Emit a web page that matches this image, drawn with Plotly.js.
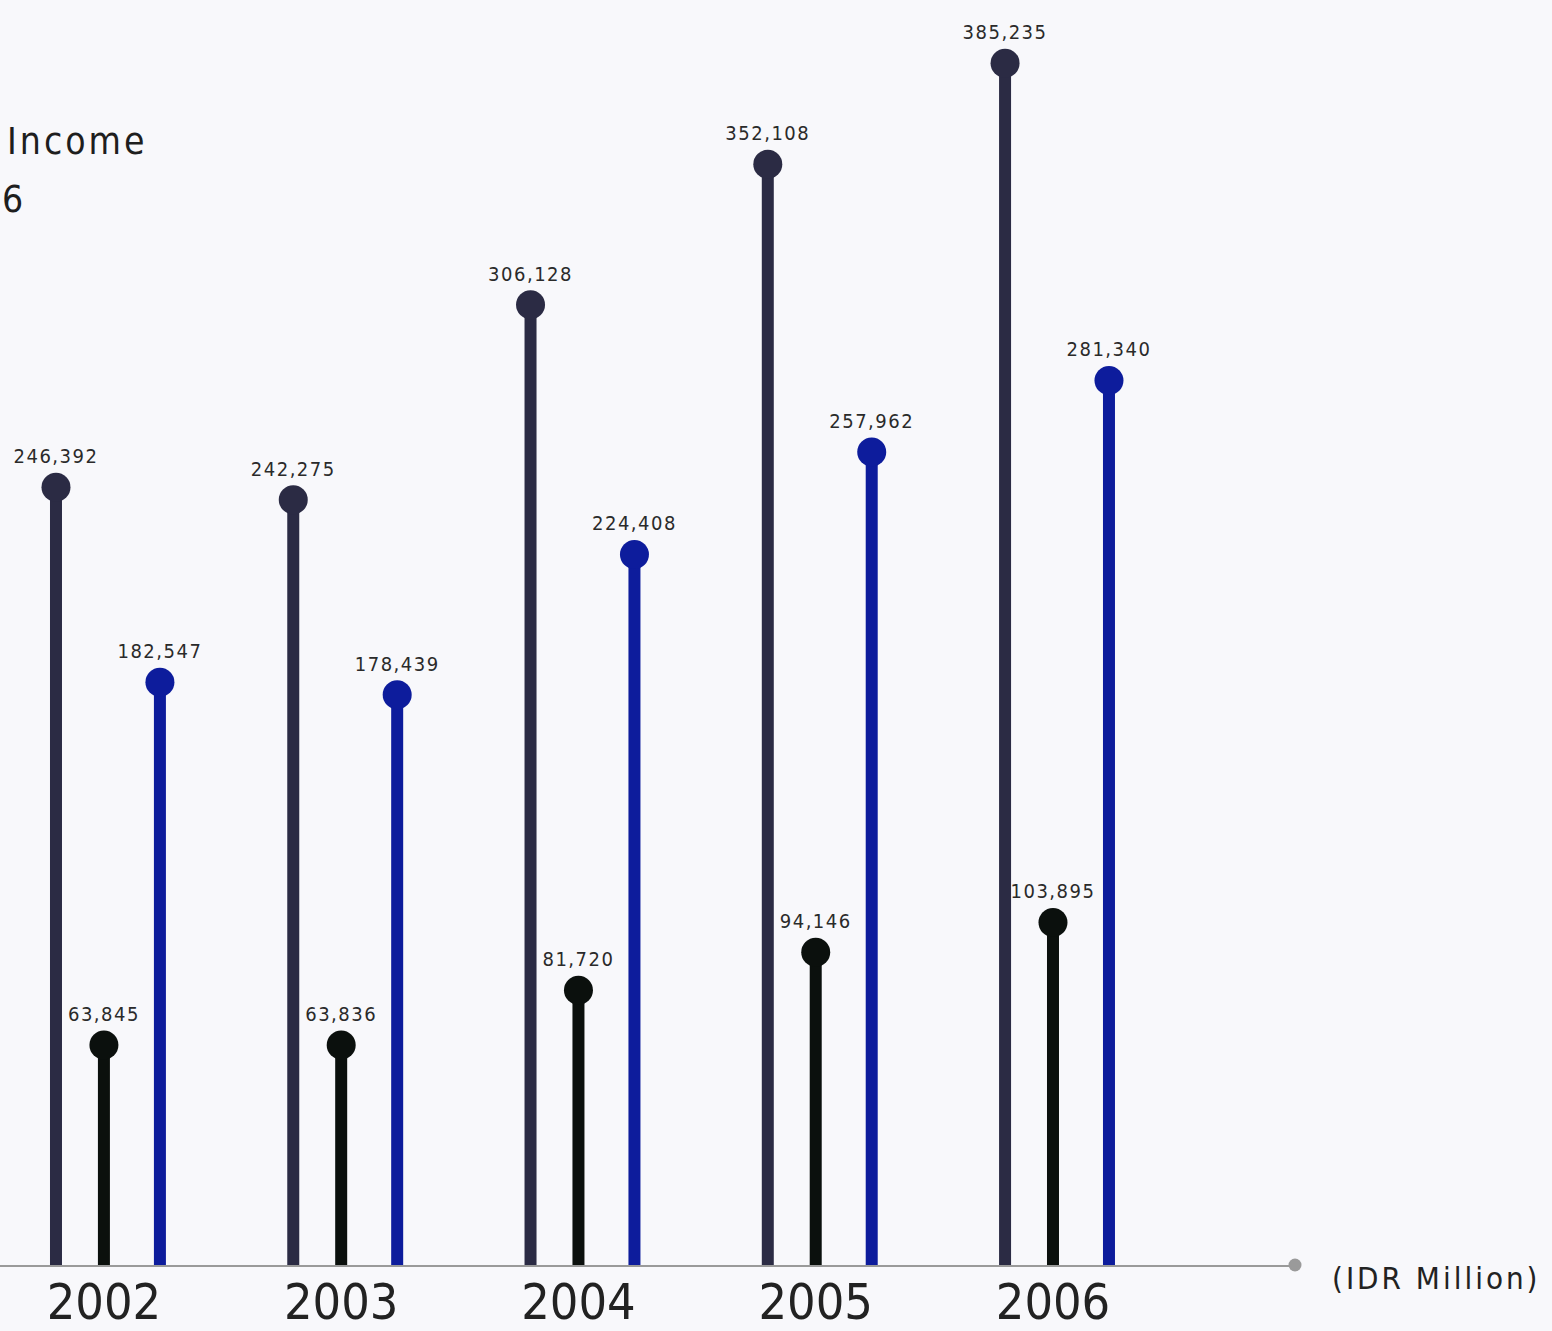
<!DOCTYPE html>
<html>
<head>
<meta charset="utf-8">
<script src="https://cdn.plot.ly/plotly-3.0.1.min.js"></script>
<style>
  html, body { margin: 0; padding: 0; background: #f8f8fb; }
  #chart { width: 1552px; height: 1331px; }
  .textpoint text { letter-spacing: 1.5px; }
  .annotation-text { letter-spacing: 3px; }
</style>
</head>
<body>
<div id="chart"></div>
<script>
// ---- data ----
const years = [2002, 2003, 2004, 2005, 2006];
const yearLabels = ['2002', '2003', '2004', '2005', '2006'];
const seriesA = [246392, 242275, 306128, 352108, 385235]; // dark slate
const seriesB = [63845, 63836, 81720, 94146, 103895];     // black
const seriesC = [182547, 178439, 224408, 257962, 281340]; // blue
const unitLabel = '(IDR Million)';
const titleLine1 = 'Income';
const titleLine2 = '6';

// ---- layout constants ----
const FONT = 'DejaVu Sans Condensed, DejaVu Sans, sans-serif';
const Y_RANGE = [-8200, 405900];
const X_RANGE = [2001.562, 2007.02];
const OFFSETS = [-0.202, 0, 0.236];
const COLORS = ['#2b2b44', '#0b100d', '#0d1c9c'];
const PLOT_W = 1295, PLOT_H = 1265;

function stemTrace(vals, off, color) {
  const x = [], y = [];
  years.forEach((yr, i) => {
    x.push(yr + off, yr + off, null);
    y.push(Y_RANGE[0], vals[i], null);
  });
  return {
    type: 'scatter', mode: 'lines', x, y,
    line: { color, width: 12 }, hoverinfo: 'skip', showlegend: false, cliponaxis: true
  };
}
function headTrace(vals, off, color) {
  return {
    type: 'scatter', mode: 'markers+text',
    x: years.map(v => v + off), y: vals,
    marker: { color, size: 29 },
    texttemplate: '%{y:,}', textposition: 'top center',
    textfont: { family: FONT, size: 20, color: '#2a2a2a' },
    showlegend: false, cliponaxis: false
  };
}

const series = [seriesA, seriesB, seriesC];
const data = [];
series.forEach((s, k) => data.push(stemTrace(s, OFFSETS[k], COLORS[k])));
series.forEach((s, k) => data.push(headTrace(s, OFFSETS[k], COLORS[k])));
// end dot of the axis
data.push({
  type: 'scatter', mode: 'markers', x: [X_RANGE[1]], y: [Y_RANGE[0]],
  marker: { color: '#9a9a9a', size: 13 }, showlegend: false, cliponaxis: false, hoverinfo: 'skip'
});

const layout = {
  width: 1552, height: 1331,
  margin: { l: 0, r: 1552 - PLOT_W, t: 0, b: 1331 - PLOT_H, pad: 0 },
  paper_bgcolor: '#f8f8fb', plot_bgcolor: '#f8f8fb',
  showlegend: false,
  xaxis: {
    range: X_RANGE, showgrid: false, zeroline: false,
    showline: true, linecolor: '#9a9a9a', linewidth: 2,
    tickmode: 'array', tickvals: years, ticktext: yearLabels, ticks: '',
    ticklabelstandoff: -8,
    tickfont: { family: FONT, size: 50, color: '#222' }
  },
  yaxis: {
    range: Y_RANGE, showgrid: false, zeroline: false, showline: false,
    showticklabels: false, ticks: ''
  },
  annotations: [
    { xref: 'paper', yref: 'paper', x: 5 / PLOT_W, y: (PLOT_H - 141) / PLOT_H,
      xanchor: 'left', yanchor: 'middle', showarrow: false, text: titleLine1,
      font: { family: FONT, size: 37, color: '#1e1e1e' } },
    { xref: 'paper', yref: 'paper', x: 0, y: (PLOT_H - 200) / PLOT_H,
      xanchor: 'left', yanchor: 'middle', showarrow: false, text: titleLine2,
      font: { family: FONT, size: 37, color: '#1e1e1e' } },
    { xref: 'paper', yref: 'paper', x: 1330 / PLOT_W, y: (PLOT_H - 1278) / PLOT_H,
      xanchor: 'left', yanchor: 'middle', showarrow: false, text: unitLabel,
      font: { family: FONT, size: 31, color: '#222' } }
  ]
};

Plotly.newPlot('chart', data, layout, { staticPlot: true, displayModeBar: false });
</script>
</body>
</html>
